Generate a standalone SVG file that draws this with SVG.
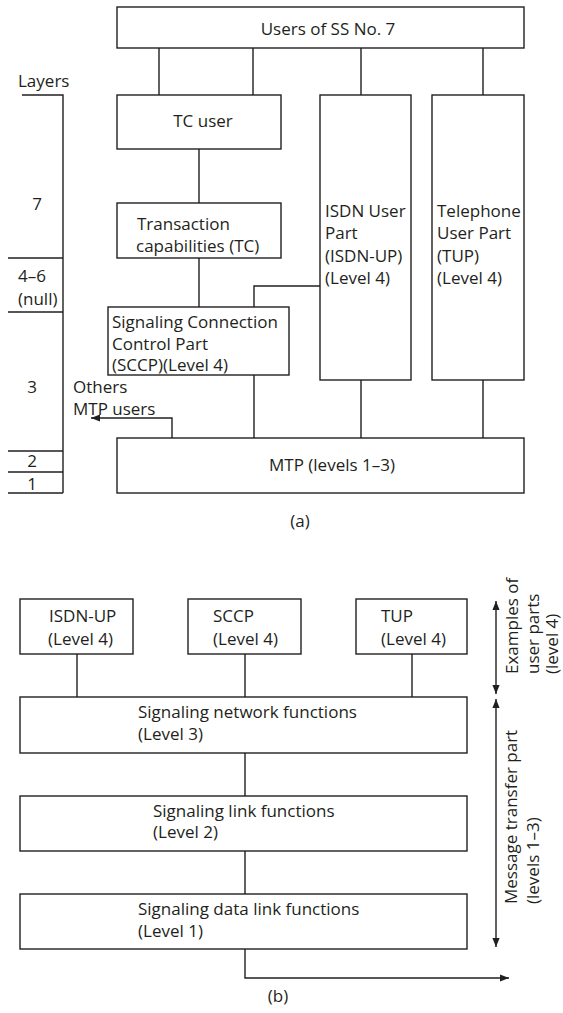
<svg xmlns="http://www.w3.org/2000/svg" width="563" height="1013" viewBox="0 0 563 1013">
<defs>
<style>
.b{fill:#fff;stroke:#231f20;stroke-width:1.4}
.l{fill:none;stroke:#231f20;stroke-width:1.4}
text{font-family:"Open Sans","DejaVu Sans",sans-serif;font-size:17px;fill:#231f20}
.m{text-anchor:middle}
</style>
<marker id="ah" viewBox="0 0 10 10" refX="10" refY="5" markerWidth="9" markerHeight="9" markerUnits="userSpaceOnUse" orient="auto-start-reverse">
<path d="M0,1 L10,5 L0,9 z" fill="#231f20"/>
</marker>
</defs>
<rect width="563" height="1013" fill="#fff"/>

<g id="connectors">
<path class="l" d="M159,48V95M253,48V95M361,48V95M483,48V95"/>
<path class="l" d="M199,149V203M199,258V307"/>
<path class="l" d="M254,307V286H320"/>
<path class="l" d="M254,375V438M361,380V438M483,380V438"/>
<path class="l" d="M172,438V418H91" marker-end="url(#ah)"/>
<path class="l" d="M77,654V697M245,654V697M412,654V697"/>
<path class="l" d="M245,753V796M245,851V894"/>
<path class="l" d="M245,949V978H509" marker-end="url(#ah)"/>
<path class="l" d="M496,601V694" marker-start="url(#ah)" marker-end="url(#ah)"/>
<path class="l" d="M496,699V947" marker-start="url(#ah)" marker-end="url(#ah)"/>
</g>

<g id="layers">
<path class="l" d="M22,95H63V493M8,258H63M8,312H63M8,451H63M8,472H63M8,493H63"/>
<text x="18" y="87">Layers</text>
<text x="37" y="210" class="m">7</text>
<text x="18" y="282">4–6</text>
<text x="18" y="305">(null)</text>
<text x="32" y="393" class="m">3</text>
<text x="32" y="467" class="m">2</text>
<text x="32" y="490" class="m">1</text>
</g>

<g id="users-ss7"><rect class="b" x="117" y="7" width="407" height="41"/><text x="328" y="35" class="m">Users of SS No. 7</text></g>
<g id="tc-user"><rect class="b" x="117" y="95" width="164" height="54"/><text x="203" y="127" class="m">TC user</text></g>
<g id="tc"><rect class="b" x="117" y="203" width="164" height="55"/><text x="137" y="230">Transaction</text><text x="136" y="252">capabilities (TC)</text></g>
<g id="isdn-up"><rect class="b" x="320" y="95" width="91" height="285"/><text x="325" y="217">ISDN User</text><text x="325" y="239">Part</text><text x="325" y="262">(ISDN-UP)</text><text x="325" y="284">(Level 4)</text></g>
<g id="tup"><rect class="b" x="432" y="95" width="92" height="285"/><text x="437" y="217">Telephone</text><text x="437" y="239">User Part</text><text x="437" y="262">(TUP)</text><text x="437" y="284">(Level 4)</text></g>
<g id="sccp"><rect class="b" x="108" y="307" width="181" height="68"/><text x="112" y="328">Signaling Connection</text><text x="112" y="350">Control Part</text><text x="112" y="371">(SCCP)(Level 4)</text></g>
<g id="mtp"><rect class="b" x="117" y="438" width="407" height="55"/><text x="332" y="471" class="m">MTP (levels 1–3)</text></g>
<g id="others"><text x="73" y="393">Others</text><text x="73" y="415">MTP users</text></g>
<text x="300" y="527" class="m">(a)</text>

<g id="b-isdn"><rect class="b" x="20" y="599" width="113" height="55"/><text x="49" y="622">ISDN-UP</text><text x="48" y="645">(Level 4)</text></g>
<g id="b-sccp"><rect class="b" x="188" y="599" width="113" height="55"/><text x="213" y="622">SCCP</text><text x="213" y="645">(Level 4)</text></g>
<g id="b-tup"><rect class="b" x="356" y="599" width="111" height="55"/><text x="381" y="622">TUP</text><text x="381" y="645">(Level 4)</text></g>
<g id="net"><rect class="b" x="20" y="697" width="447" height="56"/><text x="138" y="718">Signaling network functions</text><text x="138" y="740">(Level 3)</text></g>
<g id="link"><rect class="b" x="20" y="796" width="447" height="55"/><text x="153" y="817">Signaling link functions</text><text x="153" y="838">(Level 2)</text></g>
<g id="datalink"><rect class="b" x="20" y="894" width="447" height="55"/><text x="138" y="915">Signaling data link functions</text><text x="138" y="937">(Level 1)</text></g>
<g id="side-labels">
<text transform="translate(518,674) rotate(-90)">Examples of</text>
<text transform="translate(539,674) rotate(-90)">user parts</text>
<text transform="translate(558,674) rotate(-90)">(level 4)</text>
<text transform="translate(517,904) rotate(-90)">Message transfer part</text>
<text transform="translate(539,904) rotate(-90)">(levels 1–3)</text>
</g>
<text x="278" y="1002" class="m">(b)</text>
</svg>
